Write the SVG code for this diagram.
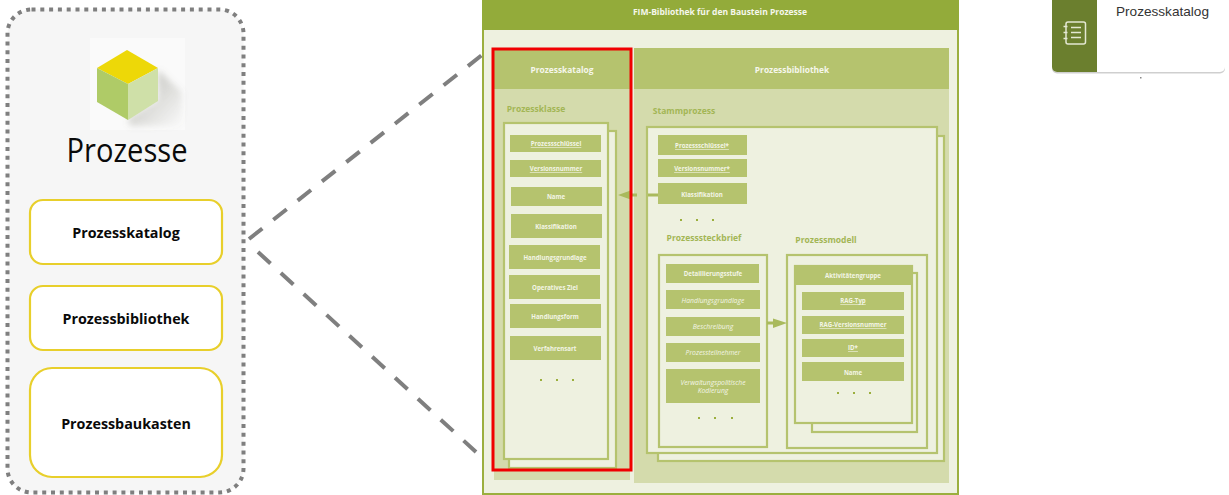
<svg xmlns="http://www.w3.org/2000/svg" width="1229" height="495" viewBox="0 0 1229 495">
<style>
text{font-family:"Open Sans","Noto Sans","Liberation Sans",sans-serif;text-anchor:middle}
.nav{fill:#fff;stroke:#E8CF2B;stroke-width:2.2}
.navt{font-size:14.3px;font-weight:700;fill:#0a0a0a}
.card{fill:#EEF1E0;stroke:#B5C36E;stroke-width:2.200}
.cell{fill:#B5C36E}
.t{font-size:6.1px;font-weight:700;fill:#F3F5E6}
.u{text-decoration:underline}
.i{font-weight:400;font-style:italic;font-size:6.800px}
.h{font-size:8.4px;font-weight:700;fill:#F6F7EC}
.sec{font-size:8.5px;font-weight:700;fill:#A3B655}
.dot{fill:#9BAF3E}
.dash{fill:none;stroke:#7F7F7F;stroke-width:4;stroke-dasharray:17 14}
.arw{fill:#A9BA5C}
</style>
<defs>
<linearGradient id="shade" x1="0" y1="0" x2="1" y2="1">
<stop offset="0" stop-color="#77776a" stop-opacity=".5"/>
<stop offset="1" stop-color="#77776a" stop-opacity="0"/>
</linearGradient>
<filter id="soft" x="-20%" y="-20%" width="140%" height="140%"><feGaussianBlur stdDeviation="3"/></filter>
</defs>
<rect width="1229" height="495" fill="#fff"/>

<g id="panel-prozesse">
<rect x="7.500" y="9.500" width="236" height="483" rx="24" fill="#F6F6F6" stroke="#7F7F7F" stroke-width="4" stroke-dasharray="4 4.800"/>
<rect x="90" y="38" width="95" height="92" fill="#FAFAFA"/>
<polygon points="158,70 182,92 182,126 130,126 128,118 158,100" fill="url(#shade)" filter="url(#soft)"/>
<polygon points="127,50 158,68 128,84 97,68" fill="#EDD808"/>
<polygon points="97,68 128,84 128,120 97,102" fill="#AFCB67"/>
<polygon points="128,84 158,68 158,101 128,120" fill="#CFE0A8"/>
<text x="127" y="162" font-size="32" fill="#0a0a0a" textLength="121" lengthAdjust="spacingAndGlyphs">Prozesse</text>
</g>
<g id="nav-prozesskatalog"><rect class="nav" x="30" y="200" width="192" height="64" rx="13"/><text class="navt" x="126" y="238">Prozesskatalog</text></g>
<g id="nav-prozessbibliothek"><rect class="nav" x="30" y="286" width="192" height="64" rx="13"/><text class="navt" x="126" y="324">Prozessbibliothek</text></g>
<g id="nav-prozessbaukasten"><rect class="nav" x="30" y="368" width="192" height="109" rx="22"/><text class="navt" x="126" y="429">Prozessbaukasten</text></g>

<g id="bibliothek-frame">
<rect x="483" y="1" width="475" height="493" fill="#EEF1E0" stroke="#9BAF3E" stroke-width="2"/>
<rect x="482" y="0" width="477" height="30" fill="#93AB3A"/>
<text class="h" x="720" y="15" style="font-size:8.500px">FIM-Bibliothek für den Baustein Prozesse</text>
</g>

<g id="prozesskatalog">
<rect x="494" y="48" width="136" height="41" fill="#B5C36E"/>
<rect x="494" y="89" width="136" height="391" fill="#D4DBAC"/>
<text class="h" x="562" y="73">Prozesskatalog</text>
<text class="sec" x="536" y="112">Prozessklasse</text>
<rect class="card" x="509" y="131" width="107" height="337"/>
<rect class="card" x="504" y="123" width="104" height="336"/>
<rect class="cell" x="510" y="135" width="91" height="17"/><text class="t u" x="556" y="146">Prozessschlüssel</text>
<rect class="cell" x="510" y="160" width="91" height="17"/><text class="t u" x="556" y="171">Versionsnummer</text>
<rect class="cell" x="511" y="187" width="91" height="19"/><text class="t" x="556" y="199">Name</text>
<rect class="cell" x="511" y="214" width="91" height="24"/><text class="t" x="556" y="229">Klassifikation</text>
<rect class="cell" x="509" y="245" width="91" height="24"/><text class="t" x="555" y="260">Handlungsgrundlage</text>
<rect class="cell" x="509" y="275" width="91" height="24"/><text class="t" x="555" y="290">Operatives Ziel</text>
<rect class="cell" x="510" y="304" width="91" height="24"/><text class="t" x="555" y="319">Handlungsform</text>
<rect class="cell" x="510" y="336" width="91" height="24"/><text class="t" x="555" y="351">Verfahrensart</text>
<rect class="dot" x="540" y="379" width="2" height="2"/><rect class="dot" x="556" y="379" width="2" height="2"/><rect class="dot" x="572" y="379" width="2" height="2"/>
</g>

<g id="prozessbibliothek">
<rect x="634" y="48" width="315" height="41" fill="#B5C36E"/>
<rect x="634" y="89" width="315" height="394" fill="#D4DBAC"/>
<text class="h" x="792" y="73">Prozessbibliothek</text>
<text class="sec" x="684" y="114">Stammprozess</text>
<rect class="card" x="658" y="136" width="286" height="325"/>
<rect class="card" x="647" y="127" width="290" height="326"/>
<rect class="cell" x="658" y="135" width="89" height="20"/><text class="t u" x="702" y="148">Prozessschlüssel*</text>
<rect class="cell" x="658" y="159" width="89" height="18"/><text class="t u" x="702" y="171">Versionsnummer*</text>
<rect class="cell" x="658" y="183" width="89" height="21"/><text class="t" x="702" y="197">Klassifikation</text>
<rect class="dot" x="680" y="219" width="2" height="2"/><rect class="dot" x="696" y="219" width="2" height="2"/><rect class="dot" x="712" y="219" width="2" height="2"/>
</g>

<g id="prozesssteckbrief">
<text class="sec" x="704" y="241">Prozesssteckbrief</text>
<rect class="card" x="659" y="255" width="108" height="192"/>
<rect class="cell" x="666" y="264" width="93" height="19"/><text class="t" x="713" y="276">Detaillierungsstufe</text>
<rect class="cell" x="666" y="290" width="94" height="19"/><text class="t i" x="713" y="303">Handlungsgrundlage</text>
<rect class="cell" x="666" y="317" width="94" height="19"/><text class="t i" x="713" y="329">Beschreibung</text>
<rect class="cell" x="666" y="343" width="94" height="19"/><text class="t i" x="713" y="355">Prozessteilnehmer</text>
<rect class="cell" x="666" y="369" width="94" height="34"/><text class="t i" x="713" y="385">Verwaltungspolitische</text><text class="t i" x="713" y="393">Kodierung</text>
<rect class="dot" x="698" y="417" width="2" height="2"/><rect class="dot" x="714" y="417" width="2" height="2"/><rect class="dot" x="731" y="417" width="2" height="2"/>
</g>

<g id="prozessmodell">
<text class="sec" x="826" y="243">Prozessmodell</text>
<rect class="card" x="787" y="255" width="140" height="193"/>
<rect class="card" x="812" y="273" width="105" height="159"/>
<rect class="card" x="795" y="266" width="117" height="157"/>
<rect class="cell" x="795" y="266" width="117" height="19"/><text class="t" x="853" y="278">Aktivitätengruppe</text>
<rect class="cell" x="802" y="292" width="102" height="18"/><text class="t u" x="853" y="303">RAG-Typ</text>
<rect class="cell" x="802" y="316" width="102" height="18"/><text class="t u" x="853" y="327">RAG-Versionsnummer</text>
<rect class="cell" x="802" y="339" width="102" height="18"/><text class="t u" x="853" y="350">ID*</text>
<rect class="cell" x="802" y="362" width="102" height="19"/><text class="t" x="853" y="375">Name</text>
<rect class="dot" x="837" y="392" width="2" height="2"/><rect class="dot" x="853" y="392" width="2" height="2"/><rect class="dot" x="869" y="392" width="2" height="2"/>
</g>

<g id="connectors">
<line class="dash" x1="249" y1="239" x2="482" y2="55"/>
<line class="dash" x1="258" y1="252" x2="476" y2="452"/>
<rect class="arw" x="648" y="193.500" width="10" height="3"/>
<rect class="arw" x="630" y="193.500" width="7" height="3"/>
<polygon class="arw" points="618,195 632,190 632,200"/>
<rect class="arw" x="767" y="321.500" width="7" height="3"/>
<polygon class="arw" points="787,323 773,318.500 773,328"/>
</g>

<g id="katalog-highlight">
<rect x="493" y="49" width="138" height="421" fill="none" stroke="#F00000" stroke-width="3"/>
</g>

<g id="card-prozesskatalog">
<rect x="1052" y="-6" width="173" height="79.500" rx="5" fill="#cfcfcf"/>
<rect x="1052" y="-6" width="173" height="78" rx="5" fill="#fff"/>
<path d="M1097 -6H1057a5 5 0 0 0 -5 5V67a5 5 0 0 0 5 5H1097Z" fill="#6B7F2E"/>
<g fill="none" stroke="#E4E8D2" stroke-width="1.500">
<rect x="1066" y="22" width="19.500" height="22" rx="2"/>
<path d="M1071 27.500H1081M1071 32.500H1081M1071 37.500H1081"/>
<path d="M1063.500 26.500h4M1063.500 32.500h4M1063.500 38.500h4"/>
</g>
<text x="1162.500" y="16" font-size="13.600" style="font-family:'Liberation Sans',Arial,sans-serif" fill="#333">Prozesskatalog</text>
<rect x="1140" y="77" width="1.500" height="1.500" fill="#888"/>
</g>
</svg>
